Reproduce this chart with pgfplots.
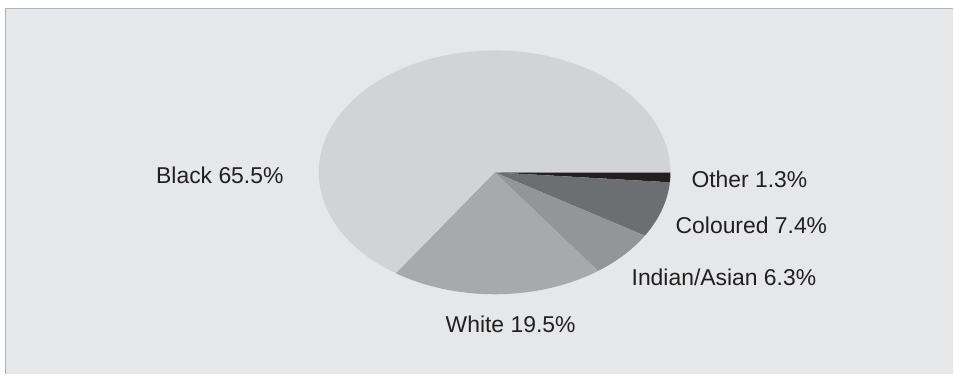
\documentclass[border=0pt]{standalone}
\usepackage{fontspec}
\setmainfont{Liberation Sans}
\usepackage{pgfplots}
\usepackage{pgfplotstable}
\pgfplotsset{compat=1.18}
\definecolor{bgc}{HTML}{E6E7E8}
\definecolor{framec}{HTML}{B1B3B6}
\definecolor{cBlack}{HTML}{D1D3D4}
\definecolor{cWhite}{HTML}{A7A9AC}
\definecolor{cIndian}{HTML}{939598}
\definecolor{cColoured}{HTML}{6D6E71}
\definecolor{cOther}{HTML}{231F20}
\definecolor{txt}{HTML}{231F20}
\pgfplotstableread{
name value
Other 1.3
Coloured 7.4
Indian/Asian 6.3
White 19.5
Black 65.5
}\piedata
\begin{document}
\begin{tikzpicture}
\pgfplotstablegetelem{0}{value}\of\piedata \let\vA\pgfplotsretval
\pgfplotstablegetelem{1}{value}\of\piedata \let\vB\pgfplotsretval
\pgfplotstablegetelem{2}{value}\of\piedata \let\vC\pgfplotsretval
\pgfplotstablegetelem{3}{value}\of\piedata \let\vD\pgfplotsretval
\pgfplotstablegetelem{4}{value}\of\piedata \let\vE\pgfplotsretval
\pgfmathsetmacro\tA{-3.6*\vA}
\pgfmathsetmacro\tB{\tA-3.6*\vB}
\pgfmathsetmacro\tC{\tB-3.6*\vC}
\pgfmathsetmacro\tD{\tC-3.6*\vD}
\pgfmathsetmacro\tE{\tD-3.6*\vE}
\begin{axis}[
  hide axis, scale only axis,
  width=477bp, height=187bp,
  xmin=0, xmax=954, ymin=0, ymax=374,
  clip=false,
]
% background
\fill[white] (axis cs:0,0) rectangle (axis cs:954,374);
\fill[bgc] (axis cs:5,0) rectangle (axis cs:954,366);
\draw[framec, line width=0.75bp] (axis cs:5.5,0) -- (axis cs:5.5,365.5) -- (axis cs:954,365.5);
% pie slices: centre (495,201.5), radii 176 x 122 (pixel units)
\fill[cOther] (axis cs:495,201.5) -- (axis cs:671,201.5)
  arc[start angle=0, end angle=\tA, x radius=176, y radius=122] -- cycle;
\fill[cColoured] (axis cs:495,201.5) -- (axis cs:{495+176*cos(\tA)},{201.5+122*sin(\tA)})
  arc[start angle=\tA, end angle=\tB, x radius=176, y radius=122] -- cycle;
\fill[cIndian] (axis cs:495,201.5) -- (axis cs:{495+176*cos(\tB)},{201.5+122*sin(\tB)})
  arc[start angle=\tB, end angle=\tC, x radius=176, y radius=122] -- cycle;
\fill[cWhite] (axis cs:495,201.5) -- (axis cs:{495+176*cos(\tC)},{201.5+122*sin(\tC)})
  arc[start angle=\tC, end angle=\tD, x radius=176, y radius=122] -- cycle;
\fill[cBlack] (axis cs:495,201.5) -- (axis cs:{495+176*cos(\tD)},{201.5+122*sin(\tD)})
  arc[start angle=\tD, end angle=\tE, x radius=176, y radius=122] -- cycle;
% labels
\tikzset{lab/.style={anchor=base, inner sep=0pt, text=txt, font=\fontsize{11.5}{13}\selectfont}}
\node[lab] at (axis cs:220,190) {Black 65.5\%};
\node[lab] at (axis cs:750,186) {Other 1.3\%};
\node[lab] at (axis cs:752,140) {Coloured 7.4\%};
\node[lab] at (axis cs:724.5,88) {Indian/Asian 6.3\%};
\node[lab] at (axis cs:511,41) {White 19.5\%};
\end{axis}
\end{tikzpicture}
\end{document}
